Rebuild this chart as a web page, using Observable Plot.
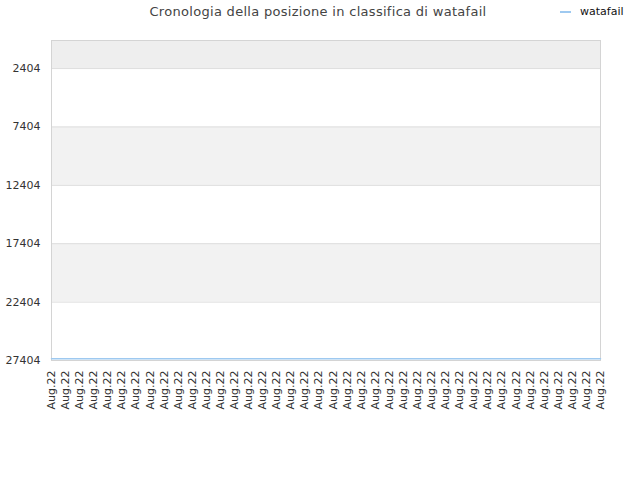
<!DOCTYPE html>
<html>
<head>
<meta charset="utf-8">
<script src="https://cdn.jsdelivr.net/npm/d3@7"></script>
<script src="https://cdn.jsdelivr.net/npm/@observablehq/plot@0.6"></script>
<style>
  body { margin: 0; background: #fff; font-family: "DejaVu Sans", sans-serif; }
  #wrap { position: relative; width: 640px; height: 480px; }
  #title { position: absolute; top: 4px; left: 0; width: 636px; text-align: center; font-size: 13px; color: #444; letter-spacing: 0.3px; }
  #legend { position: absolute; top: 5px; left: 560px; font-size: 11px; color: #111; display: flex; align-items: center; }
  #legend span.sw { display: inline-block; width: 11px; height: 2px; background: #9ec9f0; margin-right: 9px; }
  #chart { position: absolute; top: 0; left: 0; }
</style>
</head>
<body>
<div id="wrap">
  <div id="chart"></div>
  <div id="title">Cronologia della posizione in classifica di watafail</div>
  <div id="legend"><span class="sw"></span>watafail</div>
</div>
<script>
const seriesName = "watafail";
const dateLabels = Array.from({length: 40}, () => "Aug.22");
const ranks = [27250,27250,27250,27250,27250,27250,27250,27250,27250,27250,
               27250,27250,27250,27250,27250,27250,27250,27250,27250,27250,
               27250,27250,27250,27250,27250,27250,27250,27250,27250,27250,
               27250,27250,27250,27250,27250,27250,27250,27250,27250,27250];
const yTicks = [2404, 7404, 12404, 17404, 22404, 27404];
const yMin = 0;

const data = ranks.map((r, i) => ({i, r}));
const bandEdges = [yMin, ...yTicks];
const bands = bandEdges.slice(0, -1).map((v, k) => ({y1: v, y2: bandEdges[k + 1], k}));
const bandFill = d => d.k === 0 ? "#eeeeee" : (d.k % 2 === 0 ? "#f2f2f2" : "#ffffff");

const chart = Plot.plot({
  width: 640,
  height: 480,
  marginLeft: 51,
  marginRight: 40,
  marginTop: 40,
  marginBottom: 120,
  style: {fontFamily: "DejaVu Sans, sans-serif", fontSize: "11px", color: "#333", background: "transparent"},
  x: {domain: [0, dateLabels.length - 1], axis: null, label: null},
  y: {domain: [yMin, yTicks[yTicks.length - 1]], reverse: true, axis: null, label: null},
  marks: [
    Plot.rectY(bands, {x1: 0, x2: dateLabels.length - 1, y1: "y1", y2: "y2", fill: bandFill}),
    Plot.ruleY(yTicks, {stroke: "#dddddd", strokeWidth: 1}),
    Plot.frame({stroke: "#d4d4d4"}),
    Plot.axisY(yTicks, {tickSize: 0, tickPadding: 11, tickFormat: d => String(d), fill: "#333", fontSize: 11, label: null}),
    Plot.axisX(d3.range(dateLabels.length), {tickSize: 0, tickPadding: 10, tickRotate: -90, tickFormat: i => dateLabels[i], fill: "#333", fontSize: 11, label: null}),
    Plot.line(data, {x: "i", y: "r", stroke: "#9ec9f0", strokeWidth: 1.5})
  ]
});
document.getElementById("chart").appendChild(chart);
</script>
</body>
</html>
